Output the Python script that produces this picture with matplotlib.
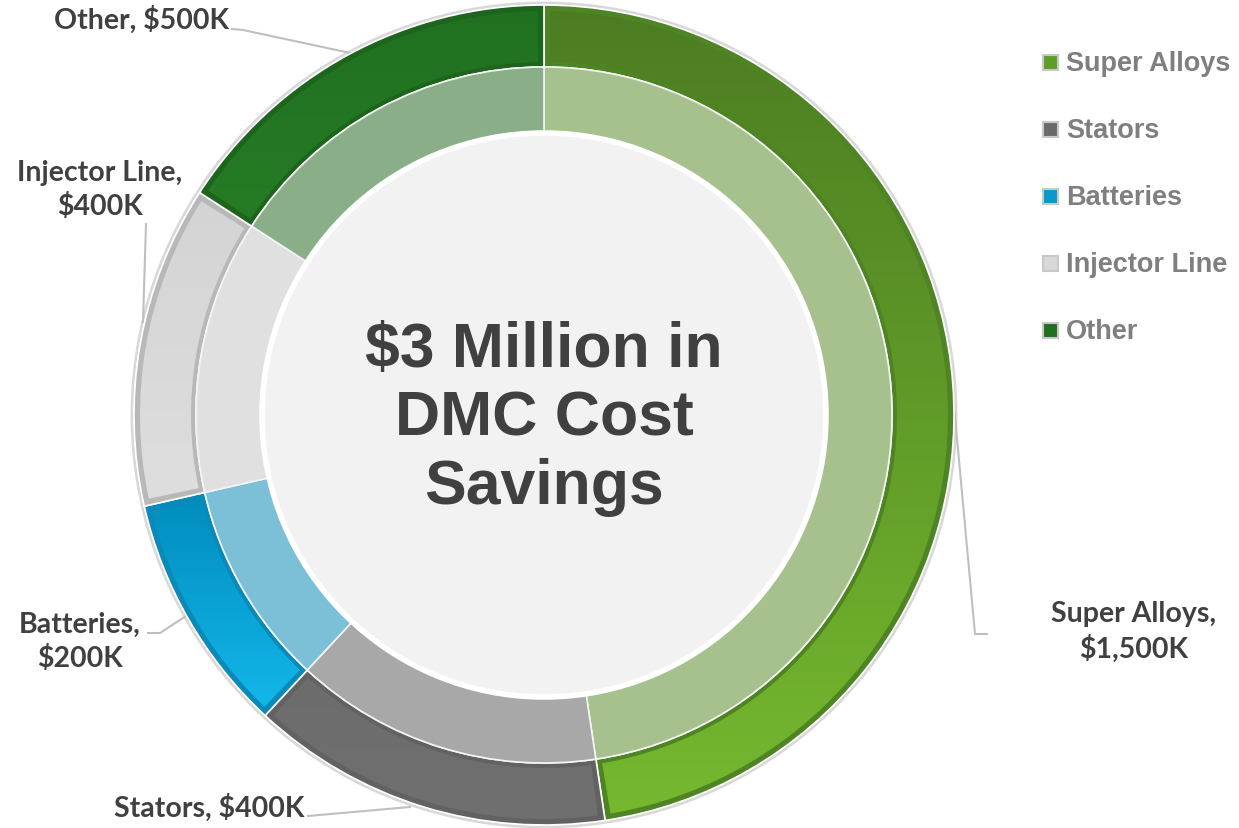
import numpy as np
import matplotlib
matplotlib.use("Agg")
import matplotlib.pyplot as plt
from matplotlib.patches import Wedge, Circle, Rectangle
from matplotlib.colors import to_rgb

# data
categories = ["Super Alloys", "Stators", "Batteries", "Injector Line", "Other"]
values = [1500, 450, 300, 400, 500]
slice_labels = ["Super Alloys,\n$1,500K", "Stators, $400K", "Batteries,\n$200K",
                "Injector Line,\n$400K", "Other, $500K"]
center_text = "$3 Million in\nDMC Cost\nSavings"

# styles
outer_top = ["#4c7c22", "#6c6c6c", "#008cbc", "#d4d4d4", "#207020"]
outer_bot = ["#76b92f", "#707070", "#14b8ec", "#dedede", "#267c25"]
outer_edge = ["#4f8424", "#626262", "#0a8ab8", "#b8b8b8", "#1d641c"]
inner_col = ["#a6c18e", "#a8a8a8", "#7cc0d8", "#e0e0e0", "#8aae88"]
legend_col = ["#5f9e26", "#6a6a6a", "#0a98cc", "#d8d8d8", "#216f20"]

W, H = 1239, 829
fig = plt.figure(figsize=(W / 100, H / 100), dpi=100)
ax = fig.add_axes([0, 0, 1, 1])
ax.set_xlim(0, W)
ax.set_ylim(0, H)
ax.axis("off")


def P(x, y):
    return x, H - y


cx, cy = P(544, 416)
r_out, r_mid, r_in = 410, 348, 282

total = sum(values)
spans = [v / total * 360 for v in values]
starts = 90 - np.concatenate([[0], np.cumsum(spans)[:-1]])

# faint outer rim
ax.add_patch(Circle((cx, cy), r_out + 2, fill=False, ec="#d8d8d8", lw=2, zorder=1))

for i in range(len(values)):
    t2 = starts[i]
    t1 = t2 - spans[i]
    # outer ring: darker bevel then gradient fill inset
    ax.add_patch(Wedge((cx, cy), r_out, t1, t2, width=r_out - r_mid,
                       fc=outer_edge[i], ec="white", lw=1.2, zorder=2))
    inset = Wedge((cx, cy), r_out - 6, t1 + 0.9, t2 - 0.9, width=r_out - r_mid - 11,
                  fc="none", ec="none", zorder=3)
    ax.add_patch(inset)
    # vertical extent of this slice for its own gradient
    a = np.radians(np.linspace(t1, t2, 100))
    ys = np.concatenate([cy + r_out * np.sin(a), cy + r_mid * np.sin(a)])
    c0, c1 = np.array(to_rgb(outer_top[i])), np.array(to_rgb(outer_bot[i]))
    f = np.linspace(0, 1, 200)[:, None, None]
    grad = c1 * f + c0 * (1 - f)
    im = ax.imshow(grad, extent=[cx - r_out, cx + r_out, ys.min(), ys.max()],
                   origin="upper", aspect="auto", zorder=3, interpolation="bilinear")
    im.set_clip_path(inset)
    # inner translucent ring
    ax.add_patch(Wedge((cx, cy), r_mid, t1, t2, width=r_mid - r_in,
                       fc=inner_col[i], ec="#f4f4f4", lw=1.2, zorder=2))

ax.set_xlim(0, W)
ax.set_ylim(0, H)

# centre disk
ax.add_patch(Circle((cx, cy), r_in, fc="#f2f2f2", ec="white", lw=4, zorder=4))
ax.text(cx, cy - 3, center_text, ha="center", va="center", fontsize=45,
        fontweight="bold", family="Liberation Sans", color="#404040",
        linespacing=1.2, zorder=5)

# data labels with leader lines
label_pos = [(1134, 632, "center"), (304, 808, "right"), (80, 642, "center"),
             (100, 190, "center"), (229, 20, "right")]
leaders = [[(987, 635), (975, 635), (952, 385)],
           [(308, 817), (410, 808)],
           [(148, 634), (160, 634), (186, 617)],
           [(146, 225), (143, 323)],
           [(232, 30), (243, 31), (355, 55)]]
for i, lab in enumerate(slice_labels):
    x, y, ha = label_pos[i]
    ax.text(*P(x, y), lab, ha=ha, va="center", fontsize=20.5, fontweight="bold",
            family="Lato", color="#404040", linespacing=1.35, zorder=6)
    pts = np.array([P(px, py) for px, py in leaders[i]])
    ax.plot(pts[:, 0], pts[:, 1], color="#bfbfbf", lw=1.5, zorder=1)

# legend
for i, cat in enumerate(categories):
    ly = 63 + i * 67
    x0, y0 = P(1043, ly + 8)
    ax.add_patch(Rectangle((x0, y0), 15, 15, fc=legend_col[i], ec="#c8c8c8", lw=1.5, zorder=6))
    ax.text(*P(1066, ly + 1), cat, ha="left", va="center", fontsize=19.5, fontweight="bold",
            family="Liberation Sans", color="#7f7f7f", zorder=6)

fig.savefig("out.png", dpi=100)
